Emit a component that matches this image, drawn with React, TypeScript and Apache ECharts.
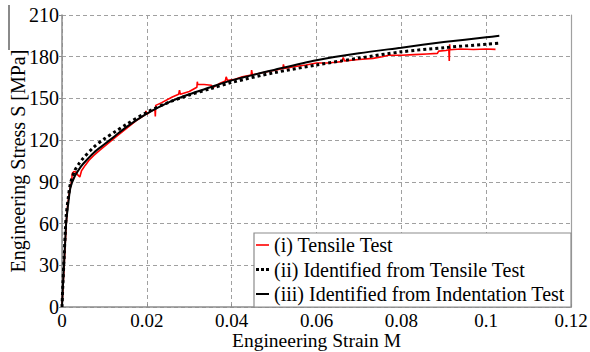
import React, { useEffect, useRef } from "react";
import * as echarts from "echarts";

const FONT = "Liberation Serif";

const xTicks = [0, 0.02, 0.04, 0.06, 0.08, 0.1, 0.12];
const yTicks = [0, 30, 60, 90, 120, 150, 180, 210];

const seriesNames = [
  "(i) Tensile Test",
  "(ii) Identified from Tensile Test",
  "(iii) Identified from Indentation Test",
];

// (i) Tensile test (noisy measured curve)
const tensileTest: [number, number][] = [
  [0, 0], [0.0002, 12], [0.0005, 30], [0.0008, 48], [0.001, 60], [0.0013, 72],
  [0.0017, 82], [0.0021, 88], [0.0023, 91], [0.0024, 96], [0.0028, 97.5],
  [0.0033, 97], [0.0037, 95], [0.0042, 93.5], [0.0046, 98], [0.0055, 102],
  [0.0065, 106], [0.0075, 109], [0.009, 113], [0.011, 118], [0.013, 123],
  [0.015, 128], [0.0175, 134], [0.0195, 138], [0.0198, 141], [0.02, 138.5],
  [0.021, 141], [0.0219, 142], [0.022, 137], [0.0221, 145], [0.0235, 147],
  [0.026, 151], [0.0275, 153], [0.0277, 156], [0.0279, 153], [0.03, 155],
  [0.0318, 158], [0.0319, 162], [0.032, 160], [0.0335, 160], [0.0352, 159.5],
  [0.0356, 157.8], [0.037, 160.5], [0.0385, 162.5], [0.0387, 165.5],
  [0.039, 163], [0.0405, 163.5], [0.0425, 165.5], [0.0446, 166.8],
  [0.0447, 170.4], [0.0449, 167], [0.048, 169], [0.0505, 170.5],
  [0.0521, 171.5], [0.0522, 174.5], [0.0524, 171.5], [0.055, 173],
  [0.0575, 174], [0.06, 175.5], [0.0625, 175.5], [0.0645, 176], [0.066, 176.5],
  [0.0663, 179.5], [0.0666, 177], [0.07, 178], [0.0733, 178.8], [0.0755, 180],
  [0.077, 181], [0.08, 181], [0.083, 181.5], [0.086, 182], [0.0885, 182.4],
  [0.0888, 184], [0.0905, 184.5], [0.0912, 185], [0.0913, 177], [0.0914, 189],
  [0.0915, 185], [0.094, 185.5], [0.097, 185.2], [0.1, 185.5], [0.1022, 185.3],
];

// (ii) Identified from tensile test
const fromTensile: [number, number][] = [
  [0, 0], [0.0002, 16], [0.0005, 36], [0.0008, 56], [0.001, 66], [0.0015, 79],
  [0.002, 89], [0.003, 98], [0.004, 103], [0.005, 107], [0.0075, 115],
  [0.01, 121], [0.0125, 126], [0.015, 131], [0.02, 140], [0.025, 147],
  [0.03, 152.5], [0.035, 157], [0.04, 161.5], [0.05, 168.5], [0.06, 174],
  [0.07, 179], [0.08, 183.5], [0.09, 186.5], [0.1, 189], [0.1035, 189.8],
];

// (iii) Identified from indentation test
const fromIndentation: [number, number][] = [
  [0, 0], [0.0002, 14], [0.0005, 32], [0.0008, 50], [0.001, 61], [0.0015, 75],
  [0.002, 86], [0.003, 94], [0.004, 99], [0.005, 103], [0.0075, 111],
  [0.01, 117], [0.0125, 123], [0.015, 129], [0.02, 139], [0.025, 147],
  [0.03, 153], [0.035, 158], [0.04, 163], [0.05, 170.5], [0.06, 177.5],
  [0.07, 182.5], [0.08, 186.5], [0.09, 190.5], [0.1, 194], [0.1031, 195],
];

export default function App() {
  const ref = useRef<HTMLDivElement>(null);
  useEffect(() => {
    if (!ref.current) return;
    const chart = echarts.init(ref.current, null, { renderer: "svg" });
    const gridColor = "#a0a0a0";
    const axisColor = "#8c8c8c";
    const labelStyle = { fontFamily: FONT, fontSize: 20, color: "#000" };
    chart.setOption({
      animation: false,
      backgroundColor: "#ffffff",
      textStyle: { fontFamily: FONT },
      grid: {
        left: 62,
        right: 19,
        top: 15,
        bottom: 45,
        containLabel: false,
        outerBoundsMode: "none",
      },
      xAxis: {
        type: "value",
        min: xTicks[0],
        max: xTicks[xTicks.length - 1],
        interval: 0.02,
        name: "Engineering Strain M",
        nameLocation: "middle",
        nameGap: 23.5,
        nameMoveOverlap: false,
        nameTextStyle: { fontFamily: FONT, fontSize: 19.5, lineHeight: 19.5, color: "#000" },
        axisLine: { show: true, lineStyle: { color: axisColor, width: 1.5 } },
        axisTick: { show: true, inside: true, length: 3, lineStyle: { color: axisColor } },
        axisLabel: {
          fontFamily: FONT,
          fontSize: 19,
          lineHeight: 19,
          color: "#000",
          margin: 4,
          formatter: (v: number) => String(+v.toFixed(2)),
        },
        splitLine: { show: true, lineStyle: { color: gridColor, type: [4, 3], width: 1 } },
      },
      yAxis: [
        {
          type: "value",
          min: yTicks[0],
          max: yTicks[yTicks.length - 1],
          interval: 30,
          name: "Engineering Stress S [MPa]",
          nameLocation: "middle",
          nameGap: 34,
          nameMoveOverlap: false,
          nameTextStyle: labelStyle,
          axisLine: { show: true, lineStyle: { color: axisColor, width: 1.5 } },
          axisTick: { show: true, inside: false, length: 3, lineStyle: { color: axisColor } },
          axisLabel: { ...labelStyle, margin: 3 },
          splitLine: { show: true, lineStyle: { color: gridColor, type: [4, 3], width: 1 } },
        },
        {
          type: "value",
          position: "right",
          min: yTicks[0],
          max: yTicks[yTicks.length - 1],
          interval: 30,
          axisLine: { show: true, lineStyle: { color: gridColor, width: 1.2 } },
          axisTick: { show: false },
          axisLabel: { show: false },
          splitLine: { show: false },
        },
      ],
      legend: {
        orient: "vertical",
        left: 256,
        top: 235,
        padding: 0,
        itemGap: 4.5,
        itemWidth: 13,
        itemHeight: 12,
        z: 10,
        data: [
          { name: seriesNames[0], icon: "path://M0,0h13v1.6h-13z", itemStyle: { color: "#ff0000" } },
          { name: seriesNames[1], icon: "path://M0,0h3v3h-3zM5,0h3v3h-3zM10,0h3v3h-3z", itemStyle: { color: "#000" } },
          { name: seriesNames[2], icon: "path://M0,0h13v2h-13z", itemStyle: { color: "#000" } },
        ],
        textStyle: labelStyle,
      },
      graphic: [
        {
          type: "rect",
          z: 8,
          shape: { x: 254, y: 233, width: 317, height: 74 },
          style: { fill: "#ffffff", stroke: "#8c8c8c", lineWidth: 1.2 },
        },
        {
          type: "line",
          z: 8,
          shape: { x1: 9, y1: 5, x2: 9, y2: 50 },
          style: { stroke: "#8a8a8a", lineWidth: 2 },
        },
      ],
      series: [
        {
          name: seriesNames[0],
          type: "line",
          data: tensileTest,
          showSymbol: false,
          symbol: "none",
          z: 3,
          lineStyle: { color: "#ff0000", width: 1.6 },
          itemStyle: { color: "#ff0000" },
        },
        {
          name: seriesNames[1],
          type: "line",
          data: fromTensile,
          showSymbol: false,
          symbol: "none",
          smooth: 0.3,
          z: 4,
          lineStyle: { color: "#000", width: 3, type: [3, 3] },
          itemStyle: { color: "#000" },
        },
        {
          name: seriesNames[2],
          type: "line",
          data: fromIndentation,
          showSymbol: false,
          symbol: "none",
          smooth: 0.3,
          z: 5,
          lineStyle: { color: "#000", width: 2 },
          itemStyle: { color: "#000" },
        },
      ],
    });
    return () => chart.dispose();
  }, []);
  return (
    <div
      ref={ref}
      style={{ position: "fixed", left: 0, top: 0, width: 590, height: 352 }}
    />
  );
}
